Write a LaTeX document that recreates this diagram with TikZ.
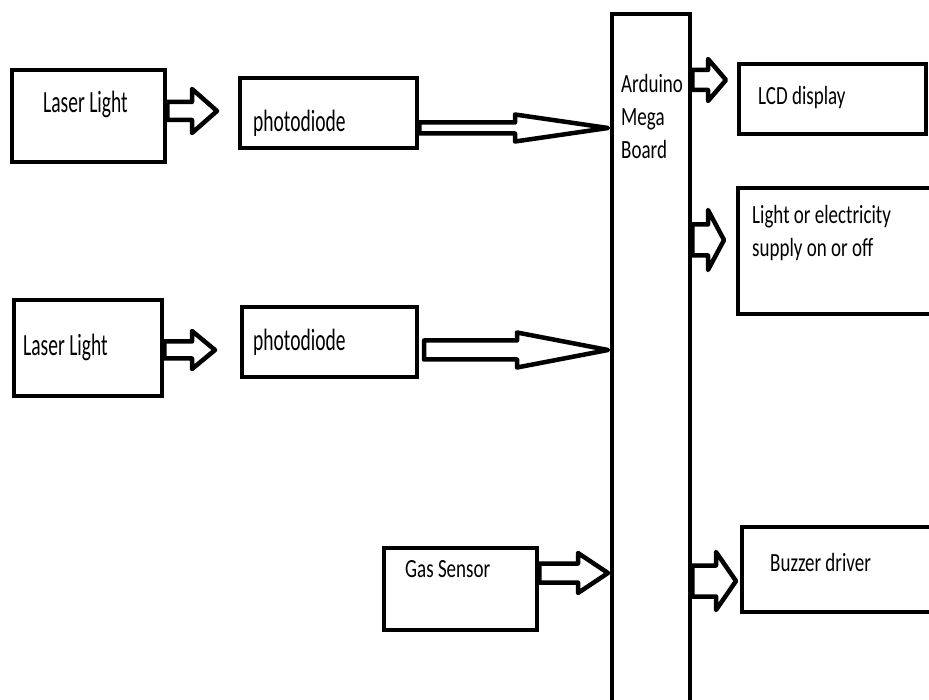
\documentclass[tikz,border=0pt]{standalone}
\usepackage{fontspec}
\setmainfont{Carlito}
\usepackage{graphicx}
\usetikzlibrary{calc,fit}
\tikzset{
  box/.style={draw, line width=4.5pt, rectangle, inner sep=0pt},
  lbl/.style={inner sep=0pt, font=\fontsize{19}{24}\selectfont},
  biglbl/.style={inner sep=0pt, font=\fontsize{19.5}{24}\selectfont},
  barrow/.style={draw, line width=4.5pt, line join=round, fill=white},
}
\newcommand\st[1]{\scalebox{1}[1.38]{#1}}
\newcommand\stt[1]{\scalebox{1}[1.58]{#1}}
% #1 start, #2 tip, #3 shaft half height, #4 head half height, #5 head length
\newcommand\blockarrow[5]{%
  \draw[barrow] let \p1=(#1), \p2=(#2) in
    (\x1,\y2-#3) -- (\x2-#5,\y2-#3) -- (\x2-#5,\y2-#4) -- (\x2,\y2)
    -- (\x2-#5,\y2+#4) -- (\x2-#5,\y2+#3) -- (\x1,\y2+#3) -- cycle;}
\begin{document}
\begin{tikzpicture}[x=1pt,y=-1pt]
\useasboundingbox (0,0) rectangle (929,700);
\clip (0,0) rectangle (929,700);
\fill[white] (0,0) rectangle (929,700);

% boxes
\node[box, fit={(12,70) (165,162)}] (las1) {};
\node[box, fit={(240,78) (417,148)}] (ph1) {};
\node[box, fit={(14,300) (162,396)}] (las2) {};
\node[box, fit={(242,307) (417,377)}] (ph2) {};
\node[box, fit={(612,14) (690,720)}] (ard) {};
\node[box, fit={(739,64) (926,134)}] (lcd) {};
\node[box, fit={(738,188) (945,314)}] (lt) {};
\node[box, fit={(384,548) (537,630)}] (gas) {};
\node[box, fit={(742,527) (945,612)}] (buz) {};

% texts
\node[biglbl, anchor=base west] (t1) at (43,113) {\stt{Laser Light}};
\node[biglbl, anchor=base west] (t2) at (253,132) {\stt{photodiode}};
\node[biglbl, anchor=base west] (t3) at (23,356) {\stt{Laser Light}};
\node[biglbl, anchor=base west] (t4) at (253,351) {\stt{photodiode}};
\node[lbl, anchor=north west] (t5) at (621,69) {\st{\begin{tabular}{@{}l@{}}Arduino\\Mega\\Board\end{tabular}}};
\node[lbl, anchor=base west] (t6) at (758,105) {\st{LCD display}};
\node[lbl, anchor=north west] (t7) at (752,200) {\st{\begin{tabular}{@{}l@{}}Light or electricity\\supply on or off\end{tabular}}};
\node[lbl, anchor=base west] (t8) at (405,577) {\st{Gas Sensor}};
\node[lbl, anchor=base west] (t9) at (770,571) {\st{Buzzer driver}};

% arrow tips
\coordinate (k1) at (217,111);
\coordinate (k2) at (215,350);
\coordinate (k3) at (608,128);
\coordinate (k4) at (608,350);
\coordinate (k5) at (726,80);
\coordinate (k6) at (724,240);
\coordinate (k7) at (608,573);
\coordinate (k8) at (736,581);
\coordinate (s4) at (424,350);

\blockarrow{las1.east}{k1}{9pt}{22pt}{25pt}
\blockarrow{las2.east}{k2}{8.5pt}{19pt}{23pt}
\blockarrow{ph1.east}{k3}{5.5pt}{13.5pt}{93pt}
\blockarrow{s4}{k4}{9.5pt}{17.5pt}{91pt}
\blockarrow{ard.east}{k5}{10pt}{21pt}{18pt}
\blockarrow{ard.east}{k6}{15.5pt}{30pt}{16pt}
\blockarrow{gas.east}{k7}{9.5pt}{20pt}{30pt}
\blockarrow{ard.east}{k8}{15.5pt}{29pt}{20pt}
\end{tikzpicture}
\end{document}
